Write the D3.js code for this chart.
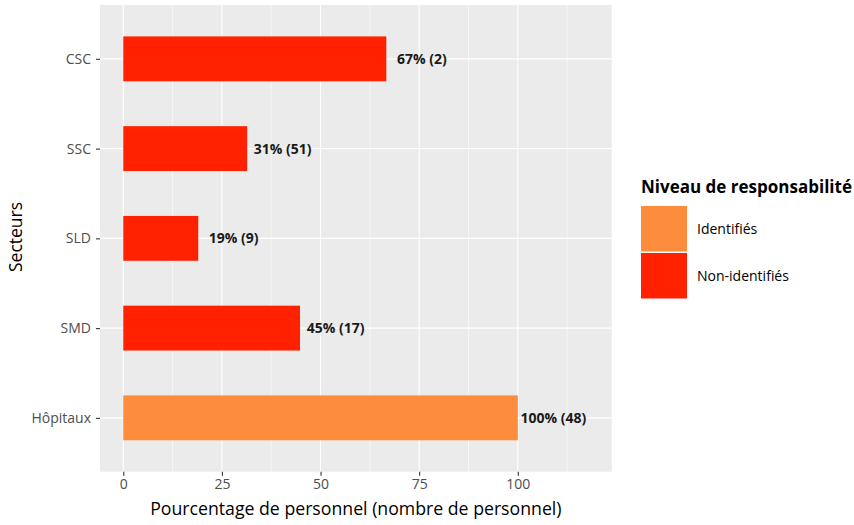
<!DOCTYPE html>
<html><head><meta charset="utf-8">
<script src="https://cdn.jsdelivr.net/npm/d3@7"></script>
<style>body{margin:0;background:#fff;} text{font-family:"Open Sans",Lato,sans-serif;}</style>
</head><body>
<svg id="c" width="854" height="525"></svg>
<script>
const categories = ["CSC","SSC","SLD","SMD","Hôpitaux"];
const values = [66.67, 31.4, 19, 44.8, 100];
const percents = [67, 31, 19, 45, 100];
const counts = [2, 51, 9, 17, 48];
const levels = ["Non-identifiés","Non-identifiés","Non-identifiés","Non-identifiés","Identifiés"];
const legendLevels = ["Identifiés","Non-identifiés"];
const levelColors = ["#FD8D3C","#FF2100"];
const xTicks = [0,25,50,75,100];
const xMinor = [12.5,37.5,62.5,87.5,112.5];

const svg = d3.select("#c");
const P = {l:100, r:611.7, t:5, b:471.7};
const x = d3.scaleLinear().domain([-5.9, 123.8]).range([P.l, P.r]);
const step = (P.b-P.t)/(categories.length+0.2);
const yc = d3.scalePoint().domain(categories).range([P.t+0.6*step, P.b-0.6*step]);
const color = d3.scaleOrdinal().domain(legendLevels).range(levelColors);

svg.append("rect").attr("x",P.l).attr("y",P.t).attr("width",P.r-P.l).attr("height",P.b-P.t).attr("fill","#EBEBEB");
const g = svg.append("g");
xMinor.forEach(v=>g.append("line").attr("x1",x(v)).attr("x2",x(v)).attr("y1",P.t).attr("y2",P.b).attr("stroke","#fff").attr("stroke-width",0.55));
xTicks.forEach(v=>g.append("line").attr("x1",x(v)).attr("x2",x(v)).attr("y1",P.t).attr("y2",P.b).attr("stroke","#fff").attr("stroke-width",1.1));
categories.forEach(c=>g.append("line").attr("x1",P.l).attr("x2",P.r).attr("y1",yc(c)).attr("y2",yc(c)).attr("stroke","#fff").attr("stroke-width",1.1));

const bh = step*0.5;
categories.forEach((c,i)=>{
  svg.append("rect").attr("x",x(0)).attr("y",yc(c)-bh/2).attr("width",x(values[i])-x(0)).attr("height",bh).attr("fill",color(levels[i]));
  svg.append("text").attr("x",x(values[i]+9)).attr("y",yc(c)).attr("dy","0.35em").attr("text-anchor","middle")
    .attr("font-size",14).attr("font-weight","bold").attr("fill","#1a1a1a").text(percents[i]+"% ("+counts[i]+")");
});

// x axis
const xa = svg.append("g").attr("transform",`translate(0,${P.b})`)
  .call(d3.axisBottom(x).tickValues(xTicks).tickSize(4).tickPadding(3));
xa.select(".domain").remove();
xa.selectAll("line").attr("stroke","#333").attr("stroke-width",1.1);
xa.selectAll("text").attr("font-size",14).attr("fill","#4D4D4D").attr("font-family","Open Sans");
// y axis
const ya = svg.append("g").attr("transform",`translate(${P.l},0)`)
  .call(d3.axisLeft(yc).tickSize(4).tickPadding(5));
ya.select(".domain").remove();
ya.selectAll("line").attr("stroke","#333").attr("stroke-width",1.1);
ya.selectAll("text").attr("font-size",14).attr("fill","#4D4D4D").attr("font-family","Open Sans");

svg.append("text").attr("x",(P.l+P.r)/2).attr("y",515).attr("text-anchor","middle").attr("font-size",17.7).attr("fill","#000")
  .text("Pourcentage de personnel (nombre de personnel)");
svg.append("text").attr("transform",`translate(21.5,237) rotate(-90)`).attr("text-anchor","middle").attr("font-size",17.5).attr("fill","#000")
  .text("Secteurs");

// legend
const lg = svg.append("g");
lg.append("text").attr("x",641).attr("y",193).attr("font-size",17).attr("font-weight","bold").attr("fill","#000").text("Niveau de responsabilité");
legendLevels.forEach((l,i)=>{
  const yy = 206 + i*47;
  lg.append("rect").attr("x",641).attr("y",yy).attr("width",46).attr("height",45.5).attr("fill",color(l));
  lg.append("text").attr("x",697).attr("y",yy+23).attr("dy","0.35em").attr("font-size",14).attr("fill","#000").text(l);
});
</script>
</body></html>
